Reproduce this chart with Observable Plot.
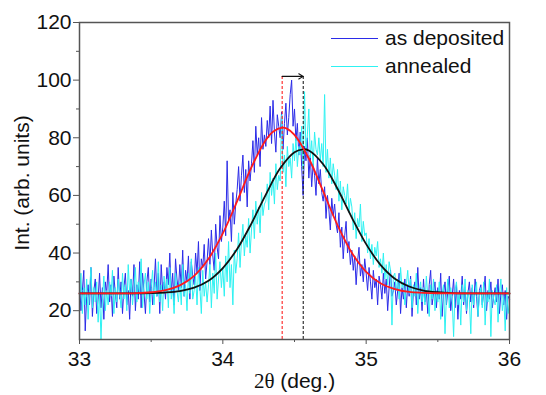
<!DOCTYPE html>
<html>
<head>
<meta charset="utf-8">
<script src="https://cdn.jsdelivr.net/npm/d3@7"></script>
<script src="https://cdn.jsdelivr.net/npm/@observablehq/plot@0.6"></script>
<style>
  html, body { margin: 0; padding: 0; background: #fff; }
  #wrap { position: relative; width: 546px; height: 395px; font-family: "Liberation Sans", Arial, sans-serif; }
  .leg { position: absolute; left: 331px; display: flex; align-items: center; font-size: 21px; color: #111; }
  .leg span.sw { display: inline-block; width: 47px; height: 0; border-top: 1.5px solid; margin-right: 7px; }
</style>
</head>
<body>
<div id="wrap"></div>
<script>
// 2θ sampling grid of the measured scans
const scanStart = 33.0;
const scanStep = 0.01;

// measured intensity, as deposited
const asDeposited = [
  31, 20, 27, 34, 13, 25, 29, 22, 35, 18,
  27, 31, 19, 24, 33, 21, 28, 17, 30, 26,
  36, 23, 29, 18, 32, 26, 21, 35, 24, 30,
  19, 28, 33, 22, 27, 17, 31, 25, 36, 20,
  29, 24, 37, 21, 33, 26, 19, 30, 35, 23,
  31, 22, 28, 38, 25, 33, 19, 36, 27, 30,
  24, 35, 29, 40, 26, 33, 22, 38, 31, 27,
  36, 28, 41, 25, 34, 30, 39, 24, 37, 32,
  29, 40, 33, 44, 27, 38, 35, 43, 31, 37,
  45, 36, 48, 39, 34, 50, 42, 38, 53, 44,
  49, 58, 46, 72, 51, 55, 44, 61, 50, 57,
  62, 70, 58, 67, 74, 61, 69, 56, 72, 65,
  71, 79, 68, 84, 74, 80, 70, 87, 76, 81,
  77, 86, 80, 91, 78, 93, 82, 75, 88, 84,
  80, 89, 76, 85, 92, 81, 87, 95, 100, 84,
  90, 79, 85, 74, 82, 70, 60, 77, 72, 80,
  66, 74, 63, 71, 67, 60, 73, 64, 69, 61,
  58, 63, 52, 60, 55, 48, 59, 53, 57, 50,
  47, 54, 42, 49, 38, 46, 51, 40, 44, 36,
  41, 34, 39, 29, 37, 42, 32, 36, 30, 38,
  33, 27, 35, 30, 24, 34, 28, 31, 22, 32,
  29, 24, 33, 26, 31, 20, 28, 34, 25, 27,
  30, 22, 27, 33, 19, 28, 24, 31, 21, 29,
  25, 32, 18, 27, 30, 22, 35, 24, 28, 20,
  31, 23, 27, 19, 29, 34, 22, 26, 30, 21,
  28, 24, 33, 18, 26, 30, 22, 27, 32, 20,
  25, 31, 21, 29, 17, 27, 24, 32, 22, 28,
  19, 26, 30, 23, 28, 21, 31, 25, 18, 27,
  29, 22, 26, 32, 20, 27, 24, 30, 21, 25,
  28, 23, 31, 19, 26, 29, 22, 27, 17, 25,
  24
];

// measured intensity, annealed
const annealed = [
  24, 33, 19, 28, 22, 31, 17, 27, 35, 21,
  28, 23, 30, 16, 26, 10, 24, 32, 20, 27,
  22, 30, 25, 34, 19, 28, 23, 31, 26, 21,
  33, 24, 29, 20, 36, 26, 31, 22, 28, 35,
  23, 30, 26, 38, 21, 29, 33, 24, 30, 19,
  28, 34, 22, 30, 25, 37, 23, 29, 20, 32,
  26, 31, 21, 35, 24, 28, 19, 33, 27, 23,
  30, 22, 36, 25, 29, 20, 33, 26, 38, 24,
  27, 32, 22, 35, 28, 19, 34, 25, 30, 23,
  29, 36, 21, 33, 26, 40, 24, 31, 37, 28,
  35, 25, 39, 30, 44, 28, 36, 22, 41, 33,
  38, 47, 35, 44, 50, 39, 46, 42, 52, 40,
  48, 55, 45, 58, 50, 56, 47, 61, 53, 57,
  58, 64, 55, 68, 60, 66, 57, 71, 62, 67,
  65, 88, 68, 74, 63, 77, 70, 73, 66, 78,
  72, 80, 70, 77, 74, 84, 69, 96, 75, 81,
  90, 73, 79, 70, 82, 76, 74, 80, 72, 78,
  70, 95, 68, 76, 66, 73, 64, 71, 67, 62,
  69, 58, 65, 55, 63, 60, 57, 64, 54, 59,
  56, 48, 54, 45, 52, 49, 57, 44, 51, 46,
  47, 40, 45, 38, 43, 36, 42, 39, 44, 35,
  38, 33, 40, 31, 36, 29, 37, 34, 15, 32,
  33, 27, 31, 24, 35, 28, 30, 22, 29, 34,
  26, 31, 21, 29, 25, 33, 19, 27, 30, 23,
  28, 22, 32, 25, 18, 29, 24, 31, 20, 27,
  23, 30, 17, 26, 29, 12, 25, 31, 21, 28,
  24, 11, 27, 30, 22, 26, 15, 29, 23, 31,
  20, 27, 24, 12, 29, 22, 26, 30, 18, 25,
  28, 21, 30, 15, 26, 23, 31, 11, 27, 24,
  22, 29, 16, 26, 31, 20, 25, 13, 28, 19,
  23
];

// fitted peak (as deposited)
const fitDepX = [33.0, 33.4, 33.5, 33.6, 33.7, 33.8, 33.9, 34.0, 34.1, 34.2, 34.3, 34.35, 34.414, 34.45, 34.5, 34.6, 34.7, 34.8, 34.9, 35.0, 35.1, 35.2, 35.3, 35.4, 35.5, 36.0];
const fitDepY = [26.0, 26.1, 26.4, 27.1, 28.8, 32.1, 38.0, 46.8, 58.0, 69.8, 79.2, 82.1, 83.5, 83.1, 81.0, 72.8, 61.4, 49.7, 40.1, 33.5, 29.5, 27.5, 26.5, 26.2, 26.05, 26.0];

// fitted peak (annealed)
const fitAnnX = [33.0, 33.5, 33.6, 33.7, 33.8, 33.9, 34.0, 34.1, 34.2, 34.3, 34.4, 34.5, 34.56, 34.6, 34.7, 34.8, 34.9, 35.0, 35.1, 35.2, 35.3, 35.4, 35.5, 35.6, 35.7, 36.0];
const fitAnnY = [26.0, 26.1, 26.3, 26.8, 28.0, 30.4, 34.8, 41.4, 50.3, 60.3, 69.4, 75.0, 76.0, 75.6, 70.8, 62.3, 52.3, 43.1, 35.9, 31.1, 28.4, 27.0, 26.4, 26.1, 26.0, 26.0];

// peak positions and shift arrow level
const peakPos = [34.414, 34.561];
const peakColors = ["#ff2020", "#222222"];
const markerTop = 101.3;

// axis ticks
const xMajor = [33, 34, 35, 36];
const xMinor = [33.5, 34.5, 35.5];
const yMajor = [20, 40, 60, 80, 100, 120];
const yMinor = [30, 50, 70, 90, 110];

const seriesNames = ["as deposited", "annealed"];
const seriesColors = ["#2b2be8", "#2ef2f2"];
const xTitle = "2θ (deg.)";
const yTitle = "Int. (arb. units)";

const dep = asDeposited.map((v, i) => ({x: scanStart + i * scanStep, y: v}));
const ann = annealed.map((v, i) => ({x: scanStart + i * scanStep, y: v}));
const fitDep = fitDepX.map((x, i) => ({x, y: fitDepY[i]}));
const fitAnn = fitAnnX.map((x, i) => ({x, y: fitAnnY[i]}));
const peaks = peakPos.map((x, i) => ({x, c: peakColors[i]}));

const chart = Plot.plot({
  width: 546,
  height: 395,
  marginLeft: 79,
  marginRight: 37,
  marginTop: 22,
  marginBottom: 56,
  style: {fontFamily: "'Liberation Sans', Arial, sans-serif", fontSize: "21px", background: "#fff", color: "#111"},
  x: {domain: [33, 36]},
  y: {domain: [10, 120]},
  marks: [
    Plot.line(dep, {x: "x", y: "y", stroke: seriesColors[0], strokeWidth: 1}),
    Plot.line(ann, {x: "x", y: "y", stroke: seriesColors[1], strokeWidth: 1}),
    Plot.ruleX(peaks, {x: "x", y1: 10, y2: markerTop, stroke: "c", strokeWidth: 1.1, strokeDasharray: "3,2"}),
    Plot.line(fitAnn, {x: "x", y: "y", stroke: "#111", strokeWidth: 1.8, curve: "catmull-rom"}),
    Plot.line(fitDep, {x: "x", y: "y", stroke: "#ff1a1a", strokeWidth: 1.8, curve: "catmull-rom"}),
    Plot.arrow([{x1: peakPos[0], x2: peakPos[1], y: markerTop}], {x1: "x1", x2: "x2", y1: "y", y2: "y", stroke: "#111", strokeWidth: 1.1, headLength: 7}),
    Plot.frame({stroke: "#555", strokeWidth: 1.5}),
    Plot.axisX({ticks: xMajor, tickSize: 5, tickPadding: 7, tickFormat: d => String(d), label: null, stroke: "#555"}),
    Plot.axisX({ticks: xMinor, tickSize: 3, tickFormat: () => "", label: null, stroke: "#555"}),
    Plot.axisY({ticks: yMajor, tickSize: 6, tickPadding: 2, tickFormat: d => String(d), label: null, stroke: "#555"}),
    Plot.axisY({ticks: yMinor, tickSize: 3, tickFormat: () => "", label: null, stroke: "#555"}),
    Plot.text([xTitle], {frameAnchor: "bottom", textAnchor: "middle", dy: 48, fontSize: 21, fill: "#111"}),
    Plot.text([yTitle], {frameAnchor: "middle", textAnchor: "middle", dx: -272, dy: 2, rotate: -90, fontSize: 21, fill: "#111"})
  ]
});

// "2θ" in a serif face, as in the original
chart.querySelectorAll("text").forEach(t => {
  if (t.textContent === xTitle) {
    while (t.firstChild) t.removeChild(t.firstChild);
    const a = document.createElementNS("http://www.w3.org/2000/svg", "tspan");
    a.setAttribute("style", "font-family: 'Liberation Serif', 'Times New Roman', serif;");
    a.textContent = "2θ";
    const b = document.createElementNS("http://www.w3.org/2000/svg", "tspan");
    b.textContent = " (deg.)";
    t.appendChild(a);
    t.appendChild(b);
  }
});

const wrap = document.getElementById("wrap");
wrap.appendChild(chart);
const legTops = [26, 54];
seriesNames.forEach((name, i) => {
  const d = document.createElement("div");
  d.className = "leg";
  d.style.top = legTops[i] + "px";
  const sw = document.createElement("span");
  sw.className = "sw";
  sw.style.borderTopColor = seriesColors[i];
  d.appendChild(sw);
  d.appendChild(document.createTextNode(name));
  wrap.appendChild(d);
});
</script>
</body>
</html>
